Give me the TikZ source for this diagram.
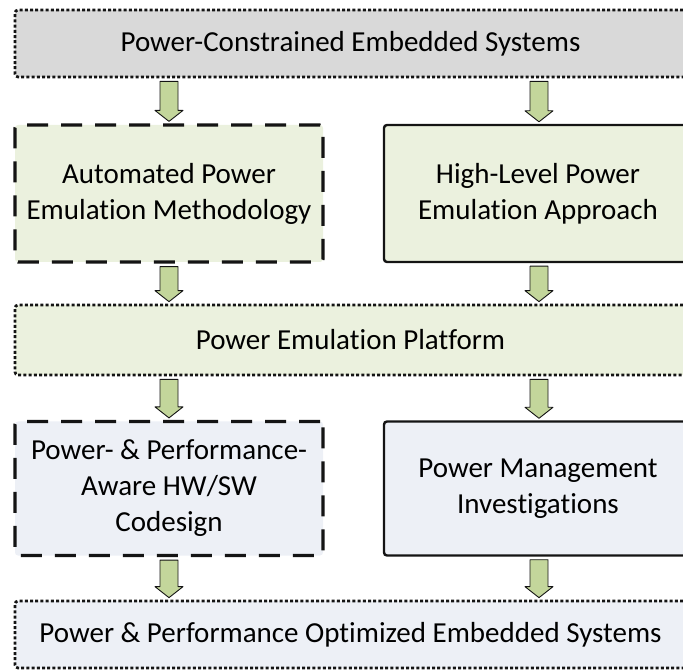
\documentclass[tikz,border=0pt]{standalone}
\usepackage{fontspec}
\setmainfont{Carlito}[Ligatures=NoCommon, RawFeature={-liga;-dlig}]
\usetikzlibrary{calc}

\definecolor{topgray}{HTML}{D9D9D9}
\definecolor{olivelight}{HTML}{EBF1DE}
\definecolor{bluelight}{HTML}{EDF0F6}
\definecolor{arrowgreen}{HTML}{C3D69B}
\definecolor{edge}{HTML}{141414}

\tikzset{
  x=1pt, y=1pt,
  box/.style={rounded corners=3pt, inner sep=0pt, align=center,
    font=\fontsize{29}{36}\selectfont, text=black},
  dottedbox/.style={box, draw=edge, line width=2.7pt,
    dash pattern=on 3pt off 2.2pt},
  dashedbox/.style={box, draw=edge, line width=3.2pt,
    dash pattern=on 21pt off 13pt},
  solidbox/.style={box, draw=edge, line width=2.4pt},
  flowarrow/.style={fill=arrowgreen, draw=edge, line width=0.9pt,
    line join=round},
}

% Block arrow from the bottom of one box to the top of the next, at column x
\newcommand{\flowarrow}[3]{%
  \draw[flowarrow] let \p1=(#1.south), \p2=(#2.north) in
    ({#3pt-9pt},{\y1-3pt}) -- ({#3pt+9pt},{\y1-3pt})
    -- ({#3pt+9pt},{\y2+13pt}) -- ({#3pt+14pt},{\y2+13pt})
    -- ({#3pt},{\y2+2pt}) -- ({#3pt-14pt},{\y2+13pt})
    -- ({#3pt-9pt},{\y2+13pt}) -- cycle;}

\begin{document}
\begin{tikzpicture}
\useasboundingbox (0,0) rectangle (683,670);
\clip (0,0) rectangle (683,670);

% top level: problem domain
\node[dottedbox, fill=topgray, minimum width=671pt, minimum height=67pt]
  (domain) at (350.5,626.5) {Power-Constrained Embedded Systems};

% emulation methodology and approach
\node[dashedbox, fill=olivelight, minimum width=308pt, minimum height=137pt]
  (auto) at (169,476.5) {Automated Power\\Emulation Methodology};
\node[solidbox, fill=olivelight, minimum width=308pt, minimum height=137pt]
  (highlevel) at (538,476.5) {High-Level Power\\Emulation Approach};

% platform
\node[dottedbox, fill=olivelight, minimum width=671pt, minimum height=70pt]
  (platform) at (350.5,330) {Power Emulation Platform};

% applications
\node[dashedbox, fill=bluelight, minimum width=308pt, minimum height=134pt]
  (codesign) at (169,181.5) {Power- \& Performance-\\Aware HW/SW\\Codesign};
\node[solidbox, fill=bluelight, minimum width=308pt, minimum height=134pt]
  (pm) at (538,181.5) {Power Management\\Investigations};

% result
\node[dottedbox, fill=bluelight, minimum width=671pt, minimum height=67pt]
  (result) at (350.5,35.5) {Power \& Performance Optimized Embedded Systems};

% flow
\flowarrow{domain}{auto}{169}
\flowarrow{domain}{highlevel}{539}
\flowarrow{auto}{platform}{169}
\flowarrow{highlevel}{platform}{539}
\flowarrow{platform}{codesign}{169}
\flowarrow{platform}{pm}{539}
\flowarrow{codesign}{result}{169}
\flowarrow{pm}{result}{539}
\end{tikzpicture}
\end{document}
